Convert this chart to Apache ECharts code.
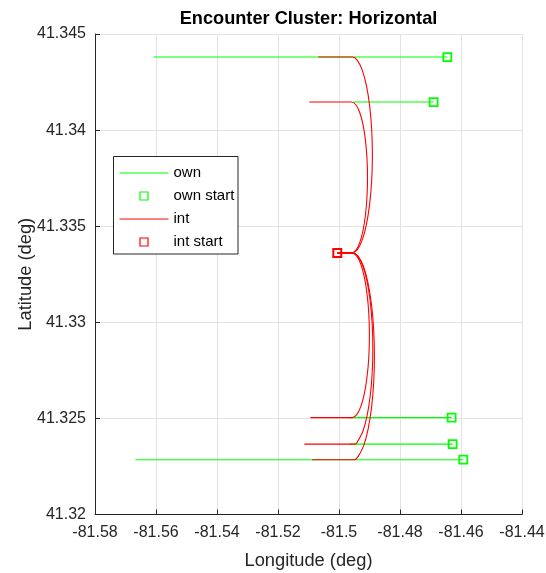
<!DOCTYPE html>
<html><head><meta charset="utf-8">
<script src="https://cdn.jsdelivr.net/npm/echarts@6/dist/echarts.min.js"></script>
<style>html,body{margin:0;padding:0;background:#fff}#c{width:546px;height:573px}</style>
</head><body><div id="c"></div>
<script>
// ---- data ----
const xTicks = [-81.58, -81.56, -81.54, -81.52, -81.5, -81.48, -81.46, -81.44];
const yTicks = [41.32, 41.325, 41.33, 41.335, 41.34, 41.345];

// ownship tracks: start (square) longitude, latitude, far end longitude
const ownStartLon = [-81.46449, -81.46898, -81.46308, -81.46275, -81.45925];
const ownLat      = [41.34380, 41.34146, 41.32504, 41.32366, 41.32285];
const ownEndLon   = [-81.56079, -81.49530, -81.49690, -81.49660, -81.56679];

// intruder start
const intStart = [-81.50056, 41.33361];

// intruder tracks [lon, lat]
const int1 = [[-81.50056,41.33361],[-81.49570,41.33361],[-81.49398,41.33378],[-81.49238,41.33429],[-81.49100,41.33510],[-81.48994,41.33616],[-81.48928,41.33739],[-81.48905,41.33870],[-81.48928,41.34002],[-81.48994,41.34125],[-81.49100,41.34231],[-81.49238,41.34312],[-81.49398,41.34363],[-81.49564,41.34380],[-81.50679,41.34380]];
const int2 = [[-81.50056,41.33361],[-81.49580,41.33361],[-81.49447,41.33374],[-81.49323,41.33413],[-81.49216,41.33475],[-81.49134,41.33557],[-81.49083,41.33651],[-81.49065,41.33753],[-81.49083,41.33855],[-81.49134,41.33949],[-81.49216,41.34031],[-81.49323,41.34093],[-81.49447,41.34132],[-81.49597,41.34146],[-81.50974,41.34146]];
const int3 = [[-81.50056,41.33361],[-81.49570,41.33361],[-81.49423,41.33346],[-81.49286,41.33303],[-81.49169,41.33235],[-81.49079,41.33146],[-81.49022,41.33043],[-81.49003,41.32932],[-81.49022,41.32821],[-81.49079,41.32718],[-81.49169,41.32629],[-81.49286,41.32561],[-81.49423,41.32518],[-81.49564,41.32504],[-81.50941,41.32504]];
const int4 = [[-81.50056,41.33361],[-81.49550,41.33361],[-81.49379,41.33343],[-81.49220,41.33294],[-81.49084,41.33215],[-81.48979,41.33112],[-81.48913,41.32992],[-81.48891,41.32863],[-81.48913,41.32734],[-81.48979,41.32614],[-81.49084,41.32511],[-81.49220,41.32432],[-81.49379,41.32383],[-81.49466,41.32366],[-81.51138,41.32366]];
const int5 = [[-81.50056,41.33361],[-81.49550,41.33361],[-81.49366,41.33342],[-81.49194,41.33289],[-81.49047,41.33203],[-81.48934,41.33092],[-81.48863,41.32962],[-81.48839,41.32823],[-81.48863,41.32684],[-81.48934,41.32554],[-81.49047,41.32443],[-81.49194,41.32357],[-81.49366,41.32304],[-81.49498,41.32285],[-81.50885,41.32285]];
const intTracks = [int1, int2, int3, int4, int5];

// ---- chart ----
const FONT = 'Liberation Sans, Arial, Helvetica, sans-serif';
const TXT = '#262626';
const GREEN = '#00ff00', RED = '#ff0000';

const series = [];
ownStartLon.forEach((lon, i) => {
  series.push({
    name: 'own', type: 'line', symbol: 'none', z: 2,
    lineStyle: {color: GREEN, width: 1.1}, itemStyle: {color: GREEN},
    data: [[lon, ownLat[i]], [ownEndLon[i], ownLat[i]]]
  });
});
series.push({
  name: 'own start', type: 'scatter', symbol: 'rect', symbolSize: 8, z: 3,
  symbolKeepAspect: true,
  itemStyle: {color: 'rgba(0,0,0,0)', borderColor: GREEN, borderWidth: 1.8, opacity: 1},
  data: ownStartLon.map((lon, i) => [lon, ownLat[i]])
});
intTracks.forEach(tr => {
  series.push({
    name: 'int', type: 'line', symbol: 'none', z: 4, smooth: 0.25,
    lineStyle: {color: RED, width: 1.1}, itemStyle: {color: RED},
    data: tr
  });
});
series.push({
  name: 'int start', type: 'scatter', symbol: 'rect', symbolSize: 8, z: 5,
  symbolKeepAspect: true,
  itemStyle: {color: 'rgba(0,0,0,0)', borderColor: RED, borderWidth: 2, opacity: 1},
  data: [intStart]
});

const fmt = v => String(+v.toFixed(4));

const option = {
  animation: false,
  backgroundColor: '#fff',
  title: {
    text: 'Encounter Cluster: Horizontal', left: 303.5, textAlign: 'center', top: 5,
    textStyle: {fontFamily: FONT, fontSize: 18.2, fontWeight: 'bold', color: '#000'}
  },
  grid: {left: 95, right: 24, top: 34, bottom: 58.5, containLabel: false, outerBoundsMode: 'none'},
  xAxis: {
    type: 'value', min: xTicks[0], max: xTicks[xTicks.length - 1], interval: 0.02,
    name: 'Longitude (deg)', nameLocation: 'middle', nameGap: 37.5,
    nameTextStyle: {fontFamily: FONT, fontSize: 18.3, color: TXT},
    axisLine: {show: true, onZero: false, lineStyle: {color: TXT, width: 1}},
    axisTick: {show: true, inside: true, length: 5, lineStyle: {color: TXT}},
    axisLabel: {fontFamily: FONT, fontSize: 16, color: TXT, margin: 10, formatter: fmt, showMinLabel: true, showMaxLabel: true},
    splitLine: {show: true, lineStyle: {color: '#e3e3e3', width: 1}}
  },
  yAxis: {
    type: 'value', min: yTicks[0], max: yTicks[yTicks.length - 1], interval: 0.005,
    name: 'Latitude (deg)', nameLocation: 'middle', nameGap: 60, nameMoveOverlap: false,
    nameTextStyle: {fontFamily: FONT, fontSize: 18.3, color: TXT},
    axisLine: {show: true, onZero: false, lineStyle: {color: TXT, width: 1}},
    axisTick: {show: true, inside: true, length: 5, lineStyle: {color: TXT}},
    axisLabel: {fontFamily: FONT, fontSize: 16, color: TXT, margin: 9, formatter: fmt, showMinLabel: true, showMaxLabel: true},
    splitLine: {show: true, lineStyle: {color: '#e3e3e3', width: 1}}
  },
  legend: {
    orient: 'vertical', left: 119, top: 165.5, padding: 0,
    itemWidth: 49, itemHeight: 8, itemGap: 8, z: 10,
    lineStyle: {width: 1},
    textStyle: {fontFamily: FONT, fontSize: 15, color: '#000', lineHeight: 15},
    data: [
      {name: 'own', itemStyle: {opacity: 0}, lineStyle: {width: 1}},
      {name: 'own start', icon: 'path://M0,0H10V10H0Z', itemStyle: {borderWidth: 1.2}},
      {name: 'int', itemStyle: {opacity: 0}, lineStyle: {width: 1}},
      {name: 'int start', icon: 'path://M0,0H10V10H0Z', itemStyle: {borderWidth: 1.2}}
    ]
  },
  graphic: [{
    type: 'rect', z: 9, silent: true,
    shape: {x: 113.5, y: 156.5, width: 124.5, height: 97.5},
    style: {fill: '#fff', stroke: TXT, lineWidth: 1}
  }],
  series: series
};

const chart = echarts.init(document.getElementById('c'), null, {renderer: 'canvas'});
chart.setOption(option);
</script>
</body></html>
